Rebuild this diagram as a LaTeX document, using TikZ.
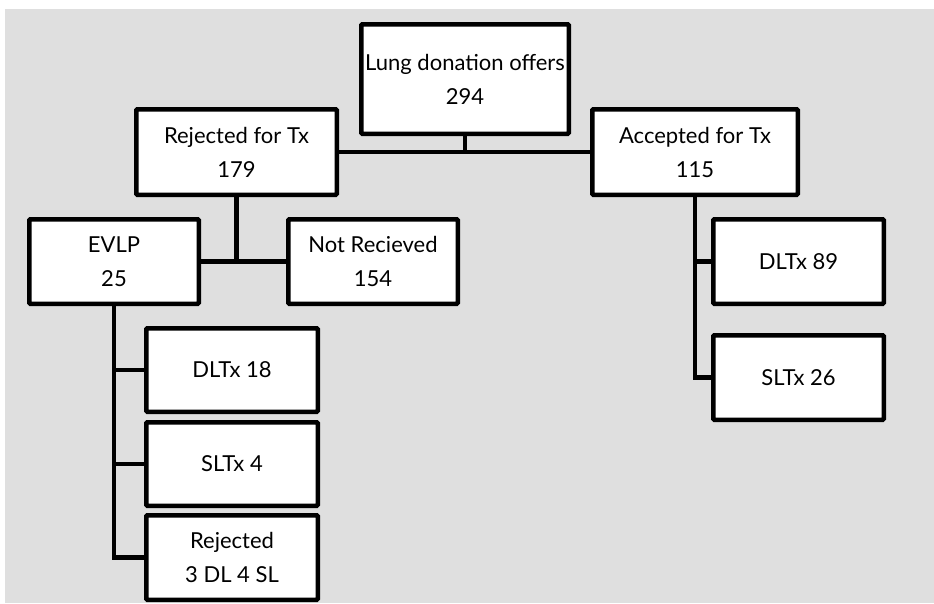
\documentclass[tikz,border=0pt]{standalone}
\usepackage{fontspec}
\setmainfont{Lato}
\begin{document}
\begin{tikzpicture}[x=1pt,y=-1pt,
  box/.style={draw=black, line width=4.5pt, fill=white, rounded corners=1pt,
    inner sep=0pt, align=center, font=\fontsize{22}{34}\selectfont},
  link/.style={draw=black, line width=4.5pt}]
\useasboundingbox (0,0) rectangle (934,603);
\fill[fill={rgb,255:red,223;green,223;blue,223}] (5,9) rectangle (934,603);
% boxes (size = outer extent minus line width)
\node[box, minimum width=207.5pt, minimum height=109.5pt] (lung) at (465,79) {Lung donation offers\\294};
\node[box, minimum width=200.5pt, minimum height=85.5pt] (rej) at (236.5,152) {Rejected for Tx\\179};
\node[box, minimum width=205.5pt, minimum height=85.5pt] (acc) at (695,152) {Accepted for Tx\\115};
\node[box, minimum width=169.5pt, minimum height=84.5pt] (evlp) at (114,261.5) {EVLP\\25};
\node[box, minimum width=169.5pt, minimum height=84.5pt] (notrec) at (373,261.5) {Not Recieved\\154};
\node[box, minimum width=170.5pt, minimum height=84.5pt] (d89) at (798.5,261.5) {DLTx 89};
\node[box, minimum width=170.5pt, minimum height=84.5pt] (s26) at (798.5,377.5) {SLTx 26};
\node[box, minimum width=171.5pt, minimum height=83.5pt] (d18) at (232,370) {DLTx 18};
\node[box, minimum width=171.5pt, minimum height=83.5pt] (s4) at (232,464) {SLTx 4};
\node[box, minimum width=171.5pt, minimum height=84.5pt] (r3) at (232,557.5) {Rejected\\3 DL 4 SL};
% connectors
\draw[link] (rej.east) -- (acc.west);
\draw[link] (lung.south) -- (lung.south |- rej.east);
\draw[link] (evlp.east) -- (notrec.west);
\draw[link] (rej.south) -- (rej.south |- evlp.east);
\draw[link, line join=miter] (acc.south) -- (acc.south |- s26.west) -- (s26.west);
\draw[link] (acc.south |- d89.west) -- (d89.west);
\draw[link, line join=miter] (evlp.south) -- (evlp.south |- r3.west) -- (r3.west);
\draw[link] (evlp.south |- d18.west) -- (d18.west);
\draw[link] (evlp.south |- s4.west) -- (s4.west);
\end{tikzpicture}
\end{document}
